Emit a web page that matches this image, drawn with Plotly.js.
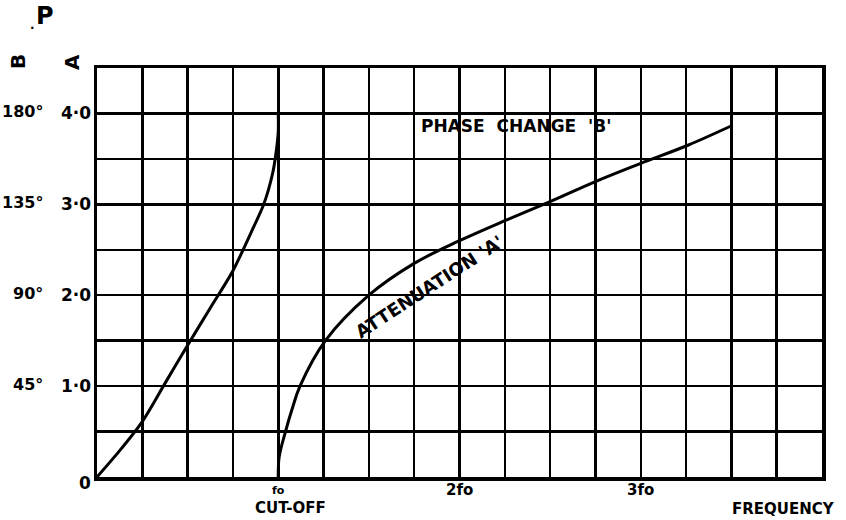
<!DOCTYPE html>
<html>
<head>
<meta charset="utf-8">
<script src="https://cdn.plot.ly/plotly-3.0.1.min.js"></script>
<style>html,body{margin:0;padding:0;background:#fff;}#chart{width:846px;height:520px;}</style>
</head>
<body>
<div id="chart"></div>
<script>
// Phase change 'B' (45° per 1.0 on the A scale) vs frequency (multiples of fo)
const phaseFreq = [0, 0.125, 0.25, 0.375, 0.5, 0.625, 0.75, 0.85, 0.92, 0.97, 0.99, 1.0, 1.0];
const phaseVal  = [0, 0.29, 0.61, 1.03, 1.45, 1.86, 2.27, 2.69, 3.0, 3.35, 3.6, 3.8, 4.0];
// Attenuation 'A' vs frequency
const attFreq = [1.0, 1.005, 1.04, 1.08, 1.12, 1.26, 1.5, 1.75, 2.0, 2.25, 2.5, 2.75, 3.0, 3.26, 3.507];
const attVal  = [0, 0.22, 0.5, 0.77, 1.0, 1.5, 2.0, 2.35, 2.6, 2.82, 3.03, 3.25, 3.45, 3.65, 3.87];
// Tick labels
const aTickVals = [0, 1, 2, 3, 4];
const aTickText = ['0', '1·0', '2·0', '3·0', '4·0'];
const bTickVals = [1, 2, 3, 4];
const bTickText = ['45°', '90°', '135°', '180°'];
const xTickVals = [1, 2, 3];
const xTickText = ['fo', '2fo', '3fo'];

const font = 'DejaVu Sans, Liberation Sans, sans-serif';
const traces = [
  {x: phaseFreq, y: phaseVal, mode: 'lines', line: {color: '#000', width: 3, shape: 'spline', smoothing: 0.8}, hoverinfo: 'skip'},
  {x: attFreq, y: attVal, mode: 'lines', line: {color: '#000', width: 3, shape: 'spline', smoothing: 1}, hoverinfo: 'skip'}
];

const ann = [];
aTickVals.forEach((v, i) => ann.push({xref: 'paper', yref: 'y', x: -0.005, y: v, yshift: v === 0 ? -6 : 0,
  xanchor: 'right', yanchor: 'middle', text: '<b>' + aTickText[i] + '</b>', showarrow: false, font: {family: font, size: 17, color: '#000'}}));
bTickVals.forEach((v, i) => ann.push({xref: 'paper', yref: 'y', x: -0.072, y: v, yshift: 2,
  xanchor: 'right', yanchor: 'middle', text: '<b>' + bTickText[i] + '</b>', showarrow: false, font: {family: font, size: 16, color: '#000'}}));
xTickVals.forEach((v, i) => ann.push({xref: 'x', yref: 'paper', x: v, y: 0, yshift: -13,
  xanchor: 'center', yanchor: 'middle', text: '<b>' + xTickText[i] + '</b>', showarrow: false, font: {family: font, size: i === 0 ? 11 : 15, color: '#000'}}));
ann.push({xref: 'x', yref: 'paper', x: 1.07, y: 0, yshift: -31, xanchor: 'center', yanchor: 'middle',
  text: '<b>CUT-OFF</b>', showarrow: false, font: {family: font, size: 15, color: '#000'}});
ann.push({xref: 'paper', yref: 'paper', x: 1.021, y: 0, yshift: -32, xanchor: 'right', yanchor: 'middle',
  text: '<b>FREQUENCY</b>', showarrow: false, font: {family: font, size: 15, color: '#000'}});
ann.push({xref: 'x', yref: 'y', x: 2.312, y: 3.86, xanchor: 'center', yanchor: 'middle',
  text: "<b>PHASE  CHANGE  'B'</b>", showarrow: false, font: {family: font, size: 17, color: '#000'}});
ann.push({xref: 'x', yref: 'y', x: 1.834, y: 2.10, xanchor: 'center', yanchor: 'middle', textangle: -33,
  text: "<b>ATTENUATION 'A'</b>", showarrow: false, font: {family: font, size: 18, color: '#000'}});
ann.push({xref: 'paper', yref: 'paper', x: -0.1089, y: 1.0147, xanchor: 'center', yanchor: 'middle', textangle: -90,
  text: '<b>B</b>', showarrow: false, font: {family: font, size: 20, color: '#000'}});
ann.push({xref: 'paper', yref: 'paper', x: -0.0345, y: 1.0147, xanchor: 'center', yanchor: 'middle', textangle: -90,
  text: '<b>A</b>', showarrow: false, font: {family: font, size: 20, color: '#000'}});
ann.push({xref: 'paper', yref: 'paper', x: -0.0717, y: 1.127, xanchor: 'center', yanchor: 'middle',
  text: '<b>P</b>', showarrow: false, font: {family: font, size: 24, color: '#000'}});
ann.push({xref: 'paper', yref: 'paper', x: -0.0896, y: 1.105, xanchor: 'center', yanchor: 'middle',
  text: '<b>.</b>', showarrow: false, font: {family: font, size: 12, color: '#000'}});

const layout = {
  width: 846, height: 520,
  margin: {l: 97, r: 24, t: 68, b: 43},
  paper_bgcolor: '#fff', plot_bgcolor: '#fff',
  showlegend: false,
  xaxis: {range: [0, 4], dtick: 0.25, tick0: 0, showgrid: true, gridcolor: '#000', gridwidth: 2.5,
    showticklabels: false, ticks: '', zeroline: false, showline: true, mirror: true, linecolor: '#000', linewidth: 3.5, fixedrange: true},
  yaxis: {range: [0, 4.5], dtick: 0.5, tick0: 0, showgrid: true, gridcolor: '#000', gridwidth: 2.5,
    showticklabels: false, ticks: '', zeroline: false, showline: true, mirror: true, linecolor: '#000', linewidth: 3.5, fixedrange: true},
  annotations: ann
};
Plotly.newPlot('chart', traces, layout, {displayModeBar: false, staticPlot: true});
</script>
</body>
</html>
